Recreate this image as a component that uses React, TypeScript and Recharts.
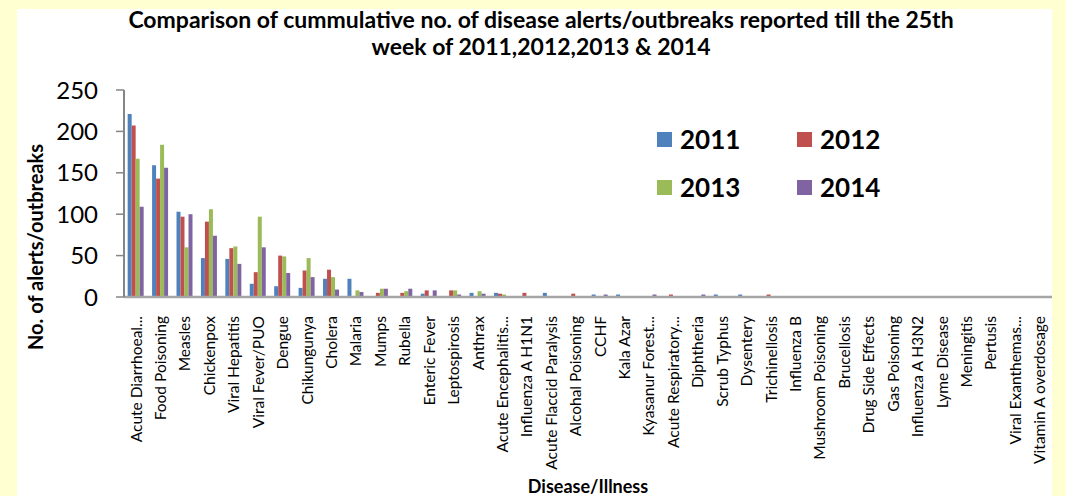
import React from "react";
import { BarChart, Bar, XAxis, YAxis, Legend } from "recharts";

const categories = [
  "Acute Diarrhoeal...", "Food Poisoning", "Measles", "Chickenpox", "Viral Hepatitis",
  "Viral Fever/PUO", "Dengue", "Chikungunya", "Cholera", "Malaria", "Mumps", "Rubella",
  "Enteric Fever", "Leptospirosis", "Anthrax", "Acute Encephalitis...", "Influenza A H1N1",
  "Acute Flaccid Paralysis", "Alcohal Poisoning", "CCHF", "Kala Azar", "Kyasanur Forest...",
  "Acute Respiratory...", "Diphtheria", "Scrub Typhus", "Dysentery", "Trichinellosis",
  "Influenza B", "Mushroom Poisoning", "Brucellosis", "Drug Side Effects", "Gas Poisoning",
  "Influenza A H3N2", "Lyme Disease", "Meningitis", "Pertusis", "Viral Exanthemas...",
  "Vitamin A overdosage",
];

const y2011 = [221, 159, 103, 47, 46, 16, 13, 11, 22, 22, 0, 0, 4, 0, 5, 5, 0, 5, 0, 3, 3, 0, 0, 0, 3, 3, 0, 0, 0, 0, 0, 0, 0, 0, 0, 0, 0, 0];
const y2012 = [207, 143, 97, 91, 59, 30, 50, 32, 33, 0, 5, 5, 8, 8, 0, 4, 5, 0, 4, 0, 0, 0, 3, 0, 0, 0, 3, 0, 0, 0, 0, 0, 0, 0, 0, 0, 0, 0];
const y2013 = [167, 184, 60, 106, 61, 97, 49, 47, 24, 8, 10, 7, 0, 8, 7, 3, 0, 0, 0, 0, 0, 0, 0, 0, 0, 0, 0, 0, 0, 0, 0, 0, 0, 0, 0, 0, 0, 0];
const y2014 = [109, 156, 100, 74, 40, 60, 29, 24, 9, 6, 10, 10, 8, 3, 4, 0, 0, 0, 0, 3, 0, 3, 0, 3, 0, 0, 0, 0, 0, 0, 0, 0, 0, 0, 0, 0, 0, 0];

const yTicks = [0, 50, 100, 150, 200, 250];
const seriesNames = ["2011", "2012", "2013", "2014"];
const seriesColors = ["#4F81BD", "#C0504D", "#9BBB59", "#8064A2"];

const data = categories.map((c, i) => ({
  name: c,
  "2011": y2011[i],
  "2012": y2012[i],
  "2013": y2013[i],
  "2014": y2014[i],
}));

const FONT = "Lato, 'Open Sans', sans-serif";

const XTick = (props: any) => {
  const { x, y, payload } = props;
  return (
    <text
      x={x}
      y={y}
      transform={`rotate(-90 ${x} ${y})`}
      textAnchor="end"
      dy="0.35em"
      fontSize={15.5}
      fontFamily={FONT}
      fill="#000"
    >
      {payload.value}
    </text>
  );
};

const LegendContent = (props: any) => {
  const payload = props.payload || [];
  return (
    <div style={{ display: "grid", gridTemplateColumns: "140px 140px", rowGap: 18 }}>
      {payload.map((p: any) => (
        <div key={p.value} style={{ display: "flex", alignItems: "center", height: 30 }}>
          <div style={{ width: 15, height: 15, background: p.color, marginRight: 8 }} />
          <span style={{ fontFamily: FONT, fontWeight: 700, fontSize: 26, color: "#000" }}>{p.value}</span>
        </div>
      ))}
    </div>
  );
};

export default function App() {
  return (
    <div style={{ position: "absolute", left: 0, top: 0, width: 1066, height: 496, background: "#FFFFD2", overflow: "hidden" }}>
      <div style={{ position: "absolute", left: 17, top: 9, width: 1035, height: 487, background: "#FFFFFF" }}>
        <div
          style={{
            position: "absolute",
            left: 124 - 17,
            top: -3,
            width: 834,
            textAlign: "center",
            fontFamily: FONT,
            fontWeight: 700,
            fontSize: 23,
            lineHeight: "27px",
            color: "#000",
            zIndex: 2,
          }}
        >
          Comparison of cummulative no. of disease alerts/outbreaks reported till the 25th
          <br />
          week of 2011,2012,2013 &amp; 2014
        </div>
        <BarChart
          width={1035}
          height={487}
          data={data}
          margin={{ top: 81, right: 0, left: 0, bottom: 9 }}
          barCategoryGap="15%"
          barGap={0}
        >
          <XAxis
            dataKey="name"
            interval={0}
            height={190}
            tick={<XTick />}
            tickLine={false}
            tickSize={0}
            tickMargin={19}
            axisLine={{ stroke: "#A6A6A6", strokeWidth: 2.5 }}
            label={{
              value: "Disease/Illness",
              position: "insideBottom",
              offset: -6,
              style: { fontFamily: FONT, fontWeight: 700, fontSize: 18, fill: "#000" },
            }}
          />
          <YAxis
            width={107}
            domain={[0, 250]}
            ticks={yTicks}
            interval={0}
            tickSize={8}
            tickMargin={18}
            tickLine={{ stroke: "#868686", strokeWidth: 1.5 }}
            axisLine={{ stroke: "#868686", strokeWidth: 2 }}
            tick={{ fontFamily: FONT, fontSize: 24, fill: "#000" }}
            label={{
              content: () => (
                <text
                  x={18}
                  y={238}
                  transform="rotate(-90 18 238)"
                  textAnchor="middle"
                  dominantBaseline="central"
                  fontFamily={FONT}
                  fontWeight={700}
                  fontSize={20}
                  fill="#000"
                >
                  No. of alerts/outbreaks
                </text>
              ),
            }}
          />
          <Legend
            layout="horizontal"
            verticalAlign="middle"
            align="center"
            content={<LegendContent />}
            wrapperStyle={{ left: 640, top: 115, width: 300 }}
          />
          {seriesNames.map((s, i) => (
            <Bar key={s} dataKey={s} fill={seriesColors[i]} isAnimationActive={false} />
          ))}
        </BarChart>
      </div>
    </div>
  );
}
